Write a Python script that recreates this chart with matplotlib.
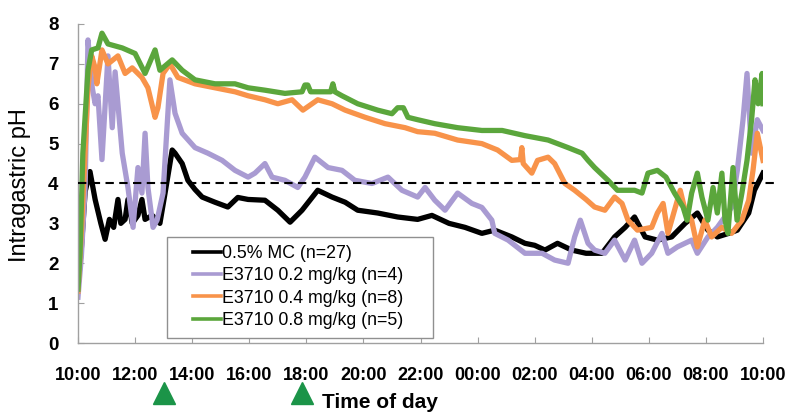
import matplotlib
matplotlib.use("Agg")
import matplotlib.pyplot as plt
import matplotlib.transforms as mtransforms
from matplotlib.patches import Rectangle

plt.rcParams["font.family"] = ["Liberation Sans", "DejaVu Sans"]

# Hours elapsed since 10:00 and intragastric pH for each group
t_mc = [0, 0.12, 0.25, 0.42, 0.6, 0.8, 0.95, 1.1, 1.25, 1.4, 1.5, 1.65, 1.75, 1.9, 2.1,
        2.24, 2.35, 2.6, 2.87, 3.05, 3.3, 3.4, 3.65, 3.85, 4.1, 4.35, 4.8, 5.25, 5.6, 5.96,
        6.55, 7.0, 7.43, 7.85, 8.4, 8.9, 9.36, 9.8, 10.5, 11.2, 11.9, 12.4, 13.0, 13.56,
        14.15, 14.6, 15.2, 15.66, 16.0, 16.36, 16.8, 17.3, 17.8, 18.36, 18.8, 19.17, 19.5,
        19.87, 20.3, 20.8, 21.27, 21.7, 22.07, 22.4, 22.8, 23.1, 23.5, 23.7, 24.0]
ph_mc = [1.4, 2.4, 3.8, 4.3, 3.6, 3.0, 2.6, 3.1, 2.9, 3.6, 3.0, 3.1, 3.6, 3.0, 3.2,
         3.6, 3.1, 3.2, 3.0, 3.76, 4.84, 4.76, 4.5, 4.08, 3.85, 3.66, 3.53, 3.41, 3.65, 3.6,
         3.58, 3.33, 3.03, 3.33, 3.83, 3.66, 3.53, 3.33, 3.26, 3.16, 3.1, 3.2, 3.0, 2.9,
         2.75, 2.83, 2.66, 2.5, 2.45, 2.33, 2.5, 2.33, 2.25, 2.25, 2.66, 2.9, 3.16,
         2.66, 2.58, 2.66, 3.0, 3.26, 2.83, 2.66, 2.75, 2.83, 3.26, 3.83, 4.26]

t_02 = [0, 0.12, 0.25, 0.35, 0.5, 0.6, 0.7, 0.84, 1.05, 1.2, 1.3, 1.55, 1.75, 1.93, 2.1,
        2.24, 2.35, 2.45, 2.63, 2.77, 2.98, 3.22, 3.4, 3.65, 4.1, 4.55, 5.05, 5.5, 5.96, 6.2,
        6.55, 6.8, 7.25, 7.7, 7.95, 8.3, 8.76, 9.25, 9.7, 10.3, 10.86, 11.35, 11.9, 12.16,
        12.5, 12.86, 13.3, 13.8, 14.15, 14.5, 14.6, 15.07, 15.66, 16.26, 16.7, 17.17, 17.4,
        17.6, 17.87, 18.1, 18.46, 18.8, 19.17, 19.5, 19.76, 20.1, 20.46, 20.67, 21.0, 21.5,
        21.7, 22.07, 22.4, 22.9, 23.1, 23.3, 23.44, 23.6, 23.8, 24.0]
ph_02 = [1.15, 2.2, 3.9, 7.6, 6.4, 6.0, 6.2, 4.6, 7.2, 5.4, 6.8, 4.76, 3.9, 2.9, 4.4,
         3.76, 5.26, 3.9, 2.9, 3.08, 3.76, 6.6, 5.76, 5.26, 4.9, 4.76, 4.58, 4.33, 4.16, 4.26,
         4.5, 4.16, 4.08, 3.9, 4.16, 4.66, 4.4, 4.33, 4.08, 4.0, 4.16, 3.83, 3.66, 3.9,
         3.58, 3.33, 3.76, 3.5, 3.4, 3.08, 2.75, 2.58, 2.25, 2.25, 2.08, 2.0, 2.66,
         3.08, 2.5, 2.33, 2.25, 2.58, 2.08, 2.58, 2.0, 2.25, 2.75, 2.25, 2.41, 2.58,
         2.25, 2.66, 2.9, 3.4, 4.33, 5.6, 6.76, 4.76, 5.6, 5.33]

t_04 = [0, 0.14, 0.35, 0.48, 0.6, 0.66, 0.84, 1.05, 1.4, 1.65, 1.9, 2.24, 2.45, 2.7, 2.8,
        2.98, 3.22, 3.5, 4.1, 4.8, 5.5, 5.96, 6.55, 7.0, 7.5, 7.88, 8.4, 8.9, 9.36, 10.06,
        10.76, 11.46, 11.9, 12.5, 13.3, 14.15, 14.7, 15.2, 15.5, 15.55, 15.6, 15.9, 16.1,
        16.47, 16.7, 17.06, 17.4, 17.8, 18.1, 18.46, 18.8, 19.06, 19.27, 19.6, 20.1, 20.3,
        20.5, 20.67, 20.9, 21.1, 21.27, 21.5, 21.7, 21.96, 22.2, 22.56, 22.9, 23.26, 23.5,
        23.65, 23.8, 24.0]
ph_04 = [1.3, 3.08, 6.4, 7.2, 6.9, 6.5, 7.35, 7.0, 7.2, 6.76, 6.9, 6.66, 6.4, 5.66, 5.9,
         6.76, 7.0, 6.66, 6.5, 6.4, 6.3, 6.2, 6.1, 6.0, 6.1, 5.84, 6.1, 6.0, 5.84, 5.66,
         5.5, 5.4, 5.3, 5.26, 5.09, 5.0, 4.84, 4.58, 4.6, 4.9, 4.5, 4.26, 4.58,
         4.66, 4.5, 4.0, 3.83, 3.6, 3.41, 3.33, 3.66, 3.5, 3.08, 2.83, 2.9, 3.26,
         3.5, 2.75, 3.33, 3.83, 3.33, 3.08, 2.41, 3.08, 2.66, 2.9, 2.75, 3.08, 3.58,
         4.33, 5.26, 4.58]

t_08 = [0, 0.07, 0.17, 0.35, 0.48, 0.7, 0.84, 1.05, 1.55, 2.0, 2.35, 2.7, 2.87, 3.3, 3.65,
        4.1, 4.8, 5.5, 5.96, 6.55, 7.25, 7.85, 7.95, 8.05, 8.15, 8.55, 8.85, 8.93, 9.0, 9.25,
        9.8, 10.5, 11.0, 11.2, 11.4, 11.56, 11.9, 12.5, 13.3, 14.15, 14.86, 15.66, 16.47,
        17.17, 17.66, 17.87, 18.1, 18.57, 18.9, 19.5, 19.76, 19.97, 20.3, 20.6, 20.9, 21.2,
        21.34, 21.5, 21.7, 21.86, 22.07, 22.25, 22.4, 22.56, 22.67, 22.77, 22.95, 23.09,
        23.26, 23.44, 23.6, 23.72, 23.83, 23.97, 24.0]
ph_08 = [1.35, 2.25, 4.76, 6.84, 7.35, 7.4, 7.77, 7.5, 7.4, 7.26, 6.76, 7.35, 6.84, 7.1, 6.84,
         6.6, 6.5, 6.5, 6.4, 6.34, 6.26, 6.3, 6.47, 6.47, 6.3, 6.3, 6.3, 6.5, 6.3, 6.2,
         6.0, 5.84, 5.75, 5.9, 5.9, 5.66, 5.6, 5.5, 5.4, 5.33, 5.33, 5.2, 5.09,
         4.9, 4.76, 4.58, 4.4, 4.08, 3.83, 3.83, 3.76, 4.26, 4.33, 4.16, 3.76, 3.41,
         3.08, 3.76, 4.26, 3.66, 3.08, 3.9, 3.26, 4.26, 3.08, 2.75, 4.4, 3.08,
         3.76, 4.58, 5.6, 6.6, 6.0, 6.76, 6.0]

labels = ["0.5% MC (n=27)", "E3710 0.2 mg/kg (n=4)",
          "E3710 0.4 mg/kg (n=8)", "E3710 0.8 mg/kg (n=5)"]
colors = ["#000000", "#a99bd2", "#f8934a", "#5ba63c"]

tick_hours = list(range(0, 25, 2))
tick_labels = ["10:00", "12:00", "14:00", "16:00", "18:00", "20:00", "22:00",
               "00:00", "02:00", "04:00", "06:00", "08:00", "10:00"]
meal_hours = [3.0, 7.85]
threshold_ph = 4

W, H = 790, 416
fig = plt.figure(figsize=(W / 100, H / 100), dpi=100)
ax = fig.add_axes([78 / W, 1 - 343 / H, 685 / W, 319 / H])

series = [(t_mc, ph_mc), (t_02, ph_02), (t_04, ph_04), (t_08, ph_08)]
for (t, ph), lab, col in zip(series, labels, colors):
    ax.plot(t, ph, color=col, lw=3.8, label=lab, solid_joinstyle="round")

ax.plot([0, 24.45], [threshold_ph, threshold_ph], color="black", lw=1.5,
        ls=(0, (4, 2.6)), clip_on=False, zorder=5)

ax.set_xlim(0, 24)
ax.set_ylim(0, 8)
ax.set_xticks(tick_hours)
ax.set_xticklabels(tick_labels, fontsize=13, fontweight="bold")
ax.set_yticks(range(0, 9))
ax.set_yticklabels([str(v) for v in range(0, 9)], fontsize=13.5, fontweight="bold")
ax.tick_params(axis="x", direction="in", length=4, color="#a0a0a0", pad=17)
ax.tick_params(axis="y", direction="in", length=4, color="#a0a0a0", pad=14)
for side in ("top", "right"):
    ax.spines[side].set_visible(False)
for side in ("left", "bottom"):
    ax.spines[side].set_color("#a0a0a0")
    ax.spines[side].set_linewidth(1.0)

ax.set_ylabel("Intragastric pH", fontsize=17)
ax.yaxis.set_label_coords(-0.0686, 0.494)
fig.text(322 / W, 1 - 403 / H, "Time of day", fontsize=15, fontweight="bold",
         ha="left", va="center")

# meal markers below the time axis
trans = mtransforms.blended_transform_factory(ax.transData, ax.transAxes)
ax.plot(meal_hours, [-0.157] * len(meal_hours), ls="none", marker="^", ms=16,
        color="#1b9448", transform=trans, clip_on=False)

# legend box and entries
box = Rectangle((167 / W, 1 - 338 / H), (433 - 167) / W, (338 - 237) / H,
                transform=fig.transFigure, facecolor="white", edgecolor="#909090",
                lw=1.0, zorder=9)
fig.add_artist(box)
leg = fig.legend(*ax.get_legend_handles_labels(), loc="upper left",
                 bbox_to_anchor=(193 / W, 1 - 245 / H), fontsize=12.8,
                 frameon=False, handlelength=1.6, handletextpad=0.02,
                 labelspacing=0.3, borderpad=0, borderaxespad=0)
for h in leg.get_lines():
    h.set_linewidth(2.6)
leg.set_zorder(10)

fig.savefig("out.png", dpi=100)
